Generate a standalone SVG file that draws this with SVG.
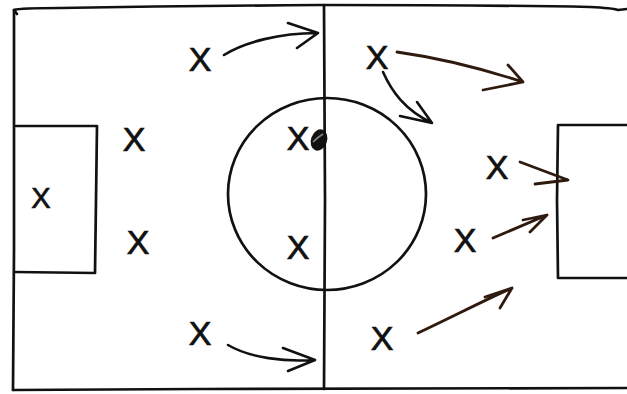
<svg xmlns="http://www.w3.org/2000/svg" width="627" height="394" viewBox="0 0 627 394">
<style>
.ln{fill:none;stroke:#111;stroke-width:2.7;stroke-linecap:round;stroke-linejoin:round}
.ar{fill:none;stroke:#111;stroke-width:2.6;stroke-linecap:round;stroke-linejoin:round}
.br{fill:none;stroke:#2e1a0e;stroke-width:2.8;stroke-linecap:round;stroke-linejoin:round}
.x{font-family:"Liberation Sans",Arial,sans-serif;font-size:34px;fill:#111;stroke:#111;stroke-width:0.7;text-anchor:middle}
</style>
<rect width="627" height="394" fill="#fff"/>
<g id="field">
<path class="ln" d="M17,14 L14,10 Q20,8 60,8 Q180,6 320,5 Q500,5 590,7 Q612,8 618,10 L627,9"/>
<path class="ln" d="M14,10 L14,250 L13,390"/>
<path class="ln" d="M13,390 L200,389 L627,388"/>
<path class="ln" d="M324,5 L325,200 L324,389"/>
<path class="ln" d="M16,126 L97,126 L96,200 L95,273 L15,272"/>
<path class="ln" d="M627,125 L558,125 L557,200 L558,278 L627,278"/>
<ellipse class="ln" cx="327" cy="194" rx="99" ry="96"/>
</g>
<g id="ball">
<ellipse cx="319" cy="140" rx="8" ry="11" transform="rotate(20 319 140)" fill="#111"/>
<path d="M313,142 Q318,137 323,134" stroke="#888" stroke-width="1.6" fill="none"/>
</g>
<g id="players">
<text class="x" x="200" y="71">X</text>
<text class="x" x="134" y="151">X</text>
<text class="x" x="41" y="208" style="font-size:29px">X</text>
<text class="x" x="138" y="254">X</text>
<text class="x" x="200" y="345">X</text>
<text class="x" x="298" y="150">X</text>
<text class="x" x="298" y="259">X</text>
<text class="x" x="377" y="69">X</text>
<text class="x" x="497" y="179">X</text>
<text class="x" x="465" y="252">X</text>
<text class="x" x="382" y="350">X</text>
</g>
<g id="connectors">
<path class="ar" d="M224,55 C245,42 280,33 317,33 M288,23 L318,33 L297,48"/>
<path class="ar" d="M228,345 C250,358 285,362 314,360 M283,348 L315,360 L288,371"/>
<path class="br" d="M397,52 C440,58 480,68 523,82 M508,65 L523,82 L483,90"/>
<path class="ar" d="M383,72 C392,92 405,110 432,123 M417,102 L432,123 L400,116"/>
<path class="br" d="M520,162 L568,180 L535,184"/>
<path class="br" d="M493,238 L547,215 M523,220 L547,215 L530,232"/>
<path class="br" d="M418,333 C450,318 485,300 512,288 M485,297 L512,288 L500,308"/>
</g>
</svg>
